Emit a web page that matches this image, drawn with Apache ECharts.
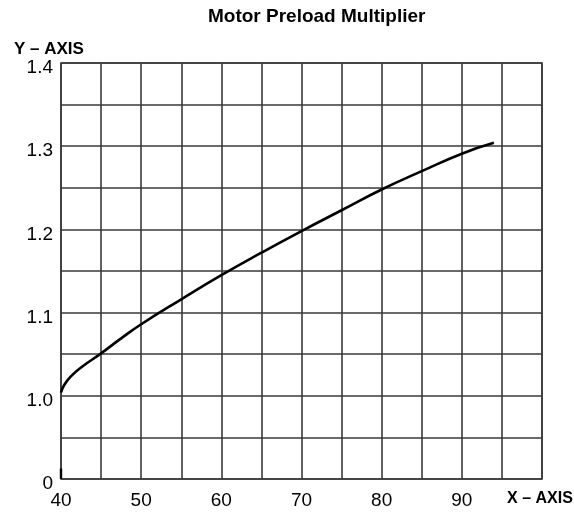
<!DOCTYPE html>
<html>
<head>
<meta charset="utf-8">
<script src="https://cdn.jsdelivr.net/npm/echarts@6/dist/echarts.min.js"></script>
<style>
  html, body { margin: 0; padding: 0; background: #fff; }
  #chart { width: 574px; height: 514px; }
</style>
</head>
<body>
<div id="chart"></div>
<script>
// Motor preload multiplier curve
const xValues = [40, 40.4, 41.2, 42.5, 45, 47.5, 50, 55, 60, 65, 70, 75, 80, 85, 90, 94];
const multiplier = [1.004, 1.013, 1.023, 1.034, 1.051, 1.069, 1.086, 1.116, 1.145, 1.172, 1.198, 1.223, 1.248, 1.270, 1.291, 1.304];

const xTickLabels = [40, 50, 60, 70, 80, 90];
const yTickLabels = ['1.0', '1.1', '1.2', '1.3', '1.4'];
const yBaseLabel = '0';   // bottom of the broken axis
const xAxisTitle = 'X – AXIS';
const yAxisTitle = 'Y – AXIS';
const chartTitle = 'Motor Preload Multiplier';

const FONT = '"Liberation Sans", Arial, sans-serif';
const GRID_COLOR = '#3a3a3a';

const chart = echarts.init(document.getElementById('chart'));

chart.setOption({
  animation: false,
  backgroundColor: '#fff',
  title: [
    {
      text: chartTitle,
      left: 203, top: 2,
      textStyle: { fontFamily: FONT, fontSize: 19, fontWeight: 'bold', color: '#000' }
    },
    {
      text: yAxisTitle,
      left: 9, top: 36,
      textStyle: { fontFamily: FONT, fontSize: 17, fontWeight: 'bold', color: '#000' }
    }
  ],
  grid: {
    left: 61, right: 32, top: 63, bottom: 35,
    outerBoundsMode: 'none',
    containLabel: false,
    show: true, borderColor: GRID_COLOR, borderWidth: 1.6
  },
  xAxis: {
    type: 'value',
    min: 40, max: 100, interval: 5,
    axisLine: { show: false },
    axisTick: { show: false },
    splitLine: { show: true, lineStyle: { color: GRID_COLOR, width: 1.6 } },
    axisLabel: {
      margin: 12,
      fontFamily: FONT, fontSize: 19, color: '#000',
      showMinLabel: true, showMaxLabel: true,
      hideOverlap: false,
      formatter: function (v) {
        if (Math.abs(v - 100) < 1e-6) return '{b|' + xAxisTitle + '}';
        const hit = xTickLabels.find(t => Math.abs(t - v) < 1e-6);
        return hit !== undefined ? String(hit) : '';
      },
      rich: {
        b: { fontFamily: FONT, fontSize: 16, fontWeight: 'bold', color: '#000', padding: [0, 4, 0, 0] }
      }
    }
  },
  yAxis: {
    type: 'value',
    min: 0.9, max: 1.4, interval: 0.05,
    axisLine: { show: false },
    axisTick: { show: false },
    splitLine: { show: true, lineStyle: { color: GRID_COLOR, width: 1.6 } },
    axisLabel: {
      margin: 8,
      showMinLabel: true, showMaxLabel: true,
      formatter: function (v) {
        if (Math.abs(v - 0.9) < 1e-6) return '{n|' + yBaseLabel + '}';
        const s = v.toFixed(1);
        return (Math.abs(parseFloat(s) - v) < 1e-6 && yTickLabels.includes(s)) ? '{n|' + s + '}' : '';
      },
      rich: {
        n: { fontFamily: FONT, fontSize: 19, color: '#000', padding: [10, 0, 0, 0] }
      }
    }
  },
  series: [
    {
      type: 'line',
      data: xValues.map((x, i) => [x, multiplier[i]]),
      smooth: 0.5,
      showSymbol: false,
      lineStyle: { color: '#000', width: 2.6 },
      markLine: {
        silent: true,
        symbol: 'none',
        label: { show: false },
        lineStyle: { color: '#000', width: 2.4, type: 'solid' },
        data: [[{ coord: [40, 0.9] }, { coord: [40, 0.9125] }]]
      }
    }
  ]
});
</script>
</body>
</html>
